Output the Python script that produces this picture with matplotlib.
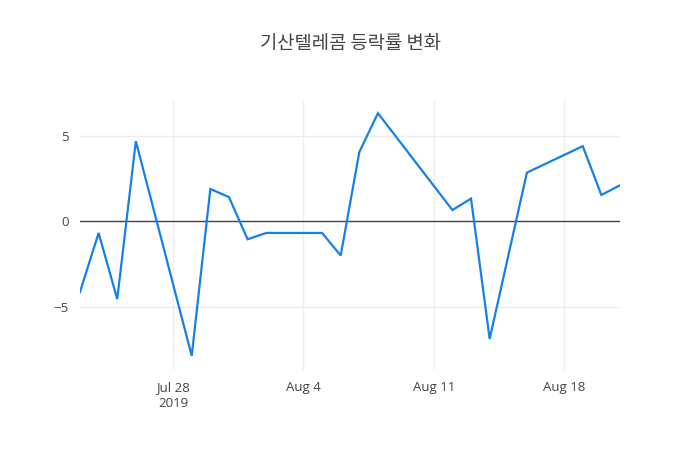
import numpy as np
import pandas as pd
import matplotlib
matplotlib.use("Agg")
import matplotlib.pyplot as plt
import matplotlib.dates as mdates

# daily change rate (%), trading days only
dates = ["2019-07-23", "2019-07-24", "2019-07-25", "2019-07-26", "2019-07-29",
         "2019-07-30", "2019-07-31", "2019-08-01", "2019-08-02", "2019-08-05",
         "2019-08-06", "2019-08-07", "2019-08-08", "2019-08-12", "2019-08-13",
         "2019-08-14", "2019-08-16", "2019-08-19", "2019-08-20", "2019-08-21"]
rates = [-4.13, -0.68, -4.55, 4.69, -7.87,
         1.89, 1.42, -1.05, -0.68, -0.68,
         -2.0, 4.05, 6.33, 0.66, 1.33,
         -6.88, 2.85, 4.40, 1.54, 2.11]
tick_dates = ["2019-07-28", "2019-08-04", "2019-08-11", "2019-08-18"]
tick_labels = ["Jul 28\n2019", "Aug 4", "Aug 11", "Aug 18"]
y_ticks = [-5, 0, 5]
y_labels = ["\u22125", "0", "5"]
title = "기산텔레콤 등락률 변화"

x = pd.to_datetime(dates)

plt.rcParams["font.family"] = ["Open Sans", "Noto Sans CJK KR", "DejaVu Sans"]

fig = plt.figure(figsize=(7, 4.5), dpi=100)
ax = fig.add_axes([80 / 700, 80 / 450, 540 / 700, 270 / 450])

ax.plot(x, rates, color="#1580e8", linewidth=1.6, solid_joinstyle="miter", zorder=3)
ax.axhline(0, color="#444444", linewidth=1.0, zorder=2)

ax.set_xlim(x[0], x[-1])
ax.set_ylim(-8.7, 7.1)

ax.set_xticks(pd.to_datetime(tick_dates))
ax.set_xticklabels(tick_labels)
ax.set_yticks(y_ticks)
ax.set_yticklabels(y_labels)

ax.grid(True, color="#eeeeee", linewidth=1.0, zorder=0)
ax.tick_params(length=0, labelsize=9.5, labelcolor="#444444", pad=8)
for lbl in ax.get_xticklabels():
    lbl.set_linespacing(1.25)
for s in ax.spines.values():
    s.set_visible(False)

fig.text(0.5, 1 - 43 / 450, title, ha="center", va="center", fontsize=13.5,
         color="#444444", family=["Noto Sans CJK KR", "DejaVu Sans"])

fig.savefig("out.png", dpi=100)
